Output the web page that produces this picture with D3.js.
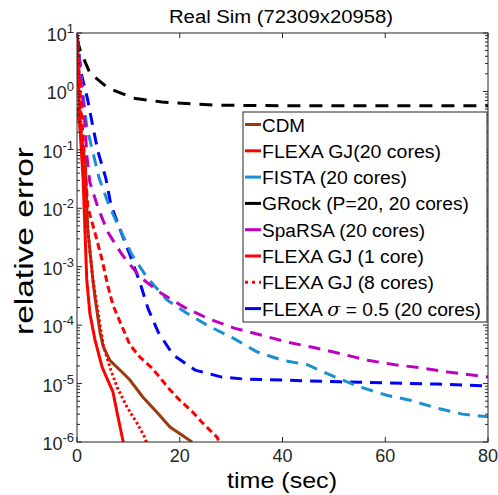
<!DOCTYPE html>
<html>
<head>
<meta charset="utf-8">
<script src="https://cdn.jsdelivr.net/npm/d3@7"></script>
<style>
  body { margin: 0; background: #fff; }
  svg text { font-family: "Liberation Sans", Arial, sans-serif; fill: #262626; }
</style>
</head>
<body>
<div id="chart"></div>
<script>
// data: [time (sec), relative error]
var cdm = [[0,0.54],[1.6,0.06],[2.1,0.0043],[3.1,5.9e-4],[3.5,3e-4],[4.5,7.4e-5],[5.1,4.3e-5],[6.4,2.5e-5],[9.0,1.5e-5],[10.3,1.15e-5],[12.8,5.9e-6],[15.6,3.2e-6],[18.1,1.8e-6],[22.4,1e-6]];
var gj20 = [[0,9],[0.6,0.22],[1.2,0.03],[1.9,6e-4],[2.5,1.6e-4],[3.5,5.6e-5],[4.9,1.9e-5],[7.0,7.2e-6],[7.8,3.2e-6],[9.0,1e-6]];
var fista = [[0,9],[1.0,1.2],[1.9,0.25],[4.3,0.033],[6.2,0.0114],[8.4,0.0043],[10.7,0.0016],[13.6,6.6e-4],[17.5,2.7e-4],[21.4,1.6e-4],[25.3,1.0e-4],[30.4,6e-5],[35,3.5e-5],[40,2.5e-5],[44.8,2.1e-5],[50.6,1.25e-5],[55,8.8e-6],[60.3,6.3e-6],[64.8,5.2e-6],[70,3.8e-6],[75,3.0e-6],[80,2.7e-6]];
var grock = [[0,8],[0.6,5.1],[2.5,2.07],[6,1.15],[10.9,0.77],[16.5,0.66],[27,0.58],[40,0.57],[60,0.57],[80,0.57]];
var sparsa = [[0,9],[1.2,0.63],[1.6,0.25],[1.9,0.082],[2.5,0.028],[4.1,0.0101],[6,0.0039],[8.8,0.0016],[12.3,6.6e-4],[16.4,3.5e-4],[21,2.0e-4],[25.5,1.3e-4],[30.6,8.9e-5],[36,6.7e-5],[41,5.1e-5],[46.3,4.1e-5],[51.6,3.2e-5],[56.6,2.5e-5],[61.9,2.1e-5],[67.1,1.85e-5],[72.2,1.58e-5],[80,1.3e-5]];
var gj1 = [[0,9],[0.6,1.0],[1.2,0.15],[2.1,0.0105],[3.5,0.0038],[4.9,0.0013],[6.0,4.7e-4],[7.0,2.2e-4],[8.8,9.3e-5],[10.3,4.6e-5],[12.3,2.8e-5],[14.6,1.85e-5],[16.2,1.25e-5],[18.1,7.8e-6],[20.0,5.2e-6],[22.6,3.2e-6],[24.5,2.1e-6],[27.3,1.2e-6],[27.6,1e-6]];
var gj8 = [[0,9],[1.0,0.1],[2.0,0.005],[3.1,6e-4],[3.7,2.7e-4],[5.1,4.6e-5],[6.4,1.9e-5],[7.8,8.7e-6],[9.7,4e-6],[11.7,2.1e-6],[13.2,1.2e-6],[13.5,1e-6]];
var sigma = [[0,9.5],[0.8,2.07],[2.1,0.71],[3.1,0.246],[4.1,0.092],[5.6,0.033],[6.6,0.0115],[8.4,0.0043],[10.3,0.0016],[12.3,5.2e-4],[13.8,1.95e-4],[15.8,7.6e-5],[18.7,3.1e-5],[23,1.7e-5],[28.2,1.29e-5],[32.3,1.2e-5],[51.2,1.07e-5],[70,9.8e-6],[80,9.1e-6]];

var legendNames = ["CDM", "FLEXA GJ(20 cores)", "FISTA (20 cores)", "GRock (P=20, 20 cores)",
  "SpaRSA (20 cores)", "FLEXA GJ (1 core)", "FLEXA GJ (8 cores)", "FLEXA σ = 0.5 (20 cores)"];
var xTicks = [0, 20, 40, 60, 80];
var yExps = [1, 0, -1, -2, -3, -4, -5, -6];

var series = [
  {name: legendNames[0], data: cdm, color: "#9a3b0f", dash: null, w: 43},
  {name: legendNames[1], data: gj20, color: "#ff0000", dash: null, w: 179},
  {name: legendNames[2], data: fista, color: "#1b8fcf", dash: "12,8", w: 145},
  {name: legendNames[3], data: grock, color: "#000000", dash: "13,9", w: 207},
  {name: legendNames[4], data: sparsa, color: "#bf00bf", dash: "12,8", w: 163},
  {name: legendNames[5], data: gj1, color: "#ff0000", dash: "7,4", w: 162},
  {name: legendNames[6], data: gj8, color: "#ff0000", dash: "2.5,2.5", w: 172},
  {name: legendNames[7], data: sigma, color: "#0000ff", dash: "12,8", w: 219}
];

var W = 498, H = 495;
var m = {left: 77, right: 10, top: 33, bottom: 53};

var svg = d3.select("#chart").append("svg").attr("width", W).attr("height", H);

var x = d3.scaleLinear().domain([0, 80]).range([m.left, W - m.right]);
var y = d3.scaleLog().domain([1e-6, 10]).range([H - m.bottom, m.top]);

svg.append("clipPath").attr("id", "clip").append("rect")
  .attr("x", m.left).attr("y", m.top)
  .attr("width", x(80) - x(0)).attr("height", y(1e-6) - y(10));

// curves
var line = d3.line().x(function(d){ return x(d[0]); }).y(function(d){ return y(d[1]); });
var g = svg.append("g").attr("clip-path", "url(#clip)");
// draw order so that red solid ones sit on top
[3, 7, 2, 4, 0, 5, 6, 1].forEach(function(i){
  var s = series[i];
  g.append("path").datum(s.data)
    .attr("d", line)
    .attr("fill", "none")
    .attr("stroke", s.color)
    .attr("stroke-width", 3)
    .attr("stroke-dasharray", s.dash);
});

// axis box and ticks
var ax = svg.append("g").attr("stroke", "#262626").attr("stroke-width", 1).attr("fill", "none");
ax.append("rect").attr("x", x(0)).attr("y", y(10))
  .attr("width", x(80) - x(0)).attr("height", y(1e-6) - y(10));

xTicks.forEach(function(t){
  ax.append("line").attr("x1", x(t)).attr("x2", x(t)).attr("y1", y(1e-6)).attr("y2", y(1e-6) - 5);
  ax.append("line").attr("x1", x(t)).attr("x2", x(t)).attr("y1", y(10)).attr("y2", y(10) + 5);
  svg.append("text").attr("x", x(t)).attr("y", y(1e-6) + 20)
    .attr("text-anchor", "middle").attr("font-size", 18).text(t);
});

y.ticks().forEach(function(v){
  var e = Math.log10(v);
  var major = Math.abs(e - Math.round(e)) < 1e-9;
  var len = major ? 5 : 3;
  ax.append("line").attr("x1", x(0)).attr("x2", x(0) + len).attr("y1", y(v)).attr("y2", y(v));
  ax.append("line").attr("x1", x(80)).attr("x2", x(80) - len).attr("y1", y(v)).attr("y2", y(v));
});

yExps.forEach(function(e){
  var t = svg.append("text").attr("x", 74).attr("y", y(Math.pow(10, e)) + 8)
    .attr("text-anchor", "end").attr("font-size", 18);
  t.append("tspan").text("10");
  t.append("tspan").attr("font-size", 13).attr("dy", -8).text(e < 0 ? "-" + (-e) : e);
});

// labels
svg.append("text").attr("x", 281).attr("y", 23)
  .attr("text-anchor", "middle").attr("font-size", 18).style("fill", "#000")
  .attr("textLength", 224).attr("lengthAdjust", "spacingAndGlyphs")
  .text("Real Sim (72309x20958)");
svg.append("text").attr("x", 282).attr("y", 488)
  .attr("text-anchor", "middle").attr("font-size", 22).style("fill", "#000")
  .attr("textLength", 110).attr("lengthAdjust", "spacingAndGlyphs")
  .text("time (sec)");
svg.append("text").attr("transform", "translate(33,241) rotate(-90)")
  .attr("text-anchor", "middle").attr("font-size", 26).style("fill", "#000")
  .attr("textLength", 188).attr("lengthAdjust", "spacingAndGlyphs")
  .text("relative error");

// legend
var lg = svg.append("g").attr("transform", "translate(243,112)");
lg.append("rect").attr("width", 244).attr("height", 210)
  .attr("fill", "#fff").attr("stroke", "#262626").attr("stroke-width", 1);
series.forEach(function(s, i){
  var yy = 12.5 + i * 26.3;
  lg.append("line").attr("x1", 2).attr("x2", 18).attr("y1", yy).attr("y2", yy)
    .attr("stroke", s.color).attr("stroke-width", 3)
    .attr("stroke-dasharray", s.dash === "2.5,2.5" ? "3,4" : null);
  var t = lg.append("text").attr("x", 19).attr("y", yy + 7).attr("font-size", 18).style("fill", "#000")
    .attr("textLength", s.w).attr("lengthAdjust", "spacingAndGlyphs");
  if (s.name.indexOf("σ") >= 0) {
    t.append("tspan").text("FLEXA ");
    t.append("tspan").attr("font-style", "italic").attr("font-family", "DejaVu Serif, serif").text("σ");
    t.append("tspan").text(" = 0.5 (20 cores)");
  } else {
    t.text(s.name);
  }
});
</script>
</body>
</html>
